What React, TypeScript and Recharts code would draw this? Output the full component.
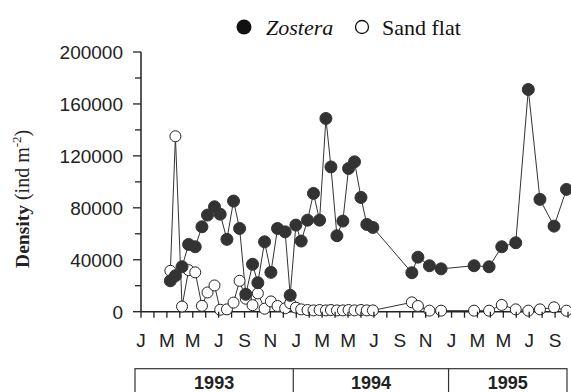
import React from 'react';
import { ComposedChart, Line, XAxis, YAxis, Legend } from 'recharts';

// Sampling dates, in months since 1 January 1993
const sampleMonths = [
  2.27, 2.66, 3.17, 3.68, 4.19, 4.71, 5.14, 5.68, 6.12, 6.64,
  7.15, 7.62, 8.1, 8.62, 9.03, 9.55, 10.04, 10.55, 11.14, 11.53,
  11.97, 12.38, 12.87, 13.33, 13.8, 14.29, 14.68, 15.14, 15.6, 16.04,
  16.5, 17.0, 17.45, 17.92,
  20.93, 21.4, 22.29, 23.19,
  25.74, 26.9, 27.88, 28.96, 29.93, 30.83, 31.92, 32.88,
];

// Density (ind m-2) in the Zostera bed
const zosteraDensity = [
  23800, 27700, 34600, 51800, 50000, 65400, 74400, 80800, 75100, 55700,
  85200, 64100, 13400, 36500, 22300, 53800, 30300, 64100, 61500, 12600,
  66700, 54400, 70500, 91100, 70500, 148800, 111500, 58500, 69800, 110300,
  115400, 88000, 67200, 64900,
  30000, 42000, 35400, 33000,
  35400, 34600, 50000, 53100, 171100, 86500, 65900, 94200,
];

// Density (ind m-2) on the bare sand flat
const sandFlatDensity = [
  31500, 135100, 4000, 32000, 30300, 4500, 14800, 20200, 1500, 1800,
  7000, 23800, 10000, 5000, 14100, 2300, 7900, 4400, 2600, 6500,
  3100, 1800, 1300, 1000, 1300, 1000, 1300, 1000, 1000, 1300,
  1000, 1300, 1000, 1000,
  7200, 4400, 800, 800,
  800, 800, 5200, 1800, 800, 1800, 3400, 800,
];

const monthLabels = ['J', 'M', 'M', 'J', 'S', 'N', 'J', 'M', 'M', 'J', 'S', 'N', 'J', 'M', 'M', 'J', 'S'];
const yearLabels = ['1993', '1994', '1995'];
const yearStartMonths = [0, 12, 24];
const yTicks = [0, 20000, 40000, 60000, 80000, 100000, 120000, 140000, 160000, 180000, 200000];

const X_MAX = 33.23;
const monthTicks = Array.from({ length: 34 }, (_, i) => i);

const data = sampleMonths.map((m, i) => ({
  month: m,
  zostera: zosteraDensity[i],
  sand: sandFlatDensity[i],
}));

const SANS = '"Liberation Sans", Arial, sans-serif';
const SERIF = '"Liberation Serif", "Times New Roman", serif';
const INK = '#222';

const XTick = (props: any) => {
  const { x, y, payload } = props;
  const v = payload.value as number;
  const label = v % 2 === 0 ? monthLabels[v / 2] : '';
  return (
    <g>
      <line x1={x} x2={x} y1={y} y2={y + 6} stroke={INK} strokeWidth={1.3} />
      {label && (
        <text x={x} y={y + 35} textAnchor="middle" fontFamily={SANS} fontSize={19} fill={INK}>
          {label}
        </text>
      )}
    </g>
  );
};

const YTick = (props: any) => {
  const { x, y, payload } = props;
  const v = payload.value as number;
  const major = v % 40000 === 0;
  return (
    <g>
      <line x1={x - (major ? 8 : 6)} x2={x} y1={y} y2={y} stroke={INK} strokeWidth={1.3} />
      {major && (
        <text x={x - 18} y={y} dy="0.36em" textAnchor="end" fontFamily={SANS} fontSize={19} fill={INK}>
          {v}
        </text>
      )}
    </g>
  );
};

const YTitle = (props: any) => {
  const vb = props.viewBox || {};
  const cx = vb.x + vb.width - 112;
  const cy = vb.y + vb.height / 2 + 17;
  return (
    <text
      x={cx}
      y={cy}
      transform={`rotate(-90 ${cx} ${cy})`}
      textAnchor="middle"
      fontFamily={SERIF}
      fill={INK}
    >
      <tspan fontWeight="bold" fontSize={19.5}>Density</tspan>
      <tspan fontSize={20}> (ind m</tspan>
      <tspan fontSize={13} dy={-8}>-2</tspan>
      <tspan fontSize={20} dy={8}>)</tspan>
    </text>
  );
};

// Year strip drawn under the month labels
const YearStrip = (props: any) => {
  const vb = props.viewBox || {};
  const px = (m: number) => vb.x + (m / X_MAX) * vb.width;
  const top = vb.y + 57;
  const left = px(0) - 6;
  const right = vb.x + vb.width - 4;
  const edges = [left, px(yearStartMonths[1]) - 3, px(yearStartMonths[2]) - 3, right];
  return (
    <g>
      <rect x={left} y={top} width={right - left} height={40} fill="none" stroke="#333" strokeWidth={1.2} />
      {edges.slice(1, 3).map((e, i) => (
        <line key={i} x1={e} x2={e} y1={top} y2={top + 40} stroke="#333" strokeWidth={1.2} />
      ))}
      {yearLabels.map((yl, i) => (
        <text
          key={yl}
          x={(edges[i] + edges[i + 1]) / 2}
          y={top + 20}
          textAnchor="middle"
          fontFamily={SANS}
          fontWeight="bold"
          fontSize={18}
          fill={INK}
        >
          {yl}
        </text>
      ))}
    </g>
  );
};

const LegendContent = () => (
  <svg width={571} height={45} style={{ display: 'block' }}>
    <circle cx={244} cy={27} r={7.5} fill="#111" />
    <text x={266} y={34.5} fontFamily={SERIF} fontStyle="italic" fontSize={22} fill="#111">
      Zostera
    </text>
    <circle cx={362} cy={27} r={6.5} fill="#fff" stroke="#111" strokeWidth={1.3} />
    <text x={382} y={34.5} fontFamily={SERIF} fontSize={22} fill="#111">
      Sand flat
    </text>
  </svg>
);

export default function App() {
  return (
    <div style={{ position: 'absolute', left: 0, top: 0 }}>
      <ComposedChart
        width={571}
        height={392}
        data={data}
        margin={{ top: 52, right: 0, bottom: 79.3, left: 140 }}
      >
        <XAxis
          type="number"
          dataKey="month"
          domain={[0, X_MAX]}
          ticks={monthTicks}
          interval={0}
          height={1}
          tickSize={0}
          tickMargin={0}
          tickLine={false}
          axisLine={{ stroke: INK, strokeWidth: 1.5 }}
          tick={(p: any) => <XTick {...p} />}
          label={{ content: (p: any) => <YearStrip {...p} /> }}
          allowDataOverflow
        />
        <YAxis
          type="number"
          domain={[0, 200000]}
          ticks={yTicks}
          interval={0}
          width={1}
          tickSize={0}
          tickMargin={0}
          tickLine={false}
          axisLine={{ stroke: INK, strokeWidth: 1.5 }}
          tick={(p: any) => <YTick {...p} />}
          label={{ content: (p: any) => <YTitle {...p} /> }}
        />
        <Legend
          verticalAlign="middle"
          align="center"
          content={() => <LegendContent />}
          wrapperStyle={{ top: 0, left: 0, width: 571, height: 45 }}
        />
        <Line
          type="linear"
          dataKey="sand"
          stroke="#333"
          strokeWidth={1}
          dot={{ r: 5.5, fill: '#fff', stroke: '#222', strokeWidth: 1 }}
          activeDot={false}
          isAnimationActive={false}
        />
        <Line
          type="linear"
          dataKey="zostera"
          stroke="#333"
          strokeWidth={1}
          dot={{ r: 6, fill: '#333', stroke: '#333', strokeWidth: 1 }}
          activeDot={false}
          isAnimationActive={false}
        />
      </ComposedChart>
    </div>
  );
}
